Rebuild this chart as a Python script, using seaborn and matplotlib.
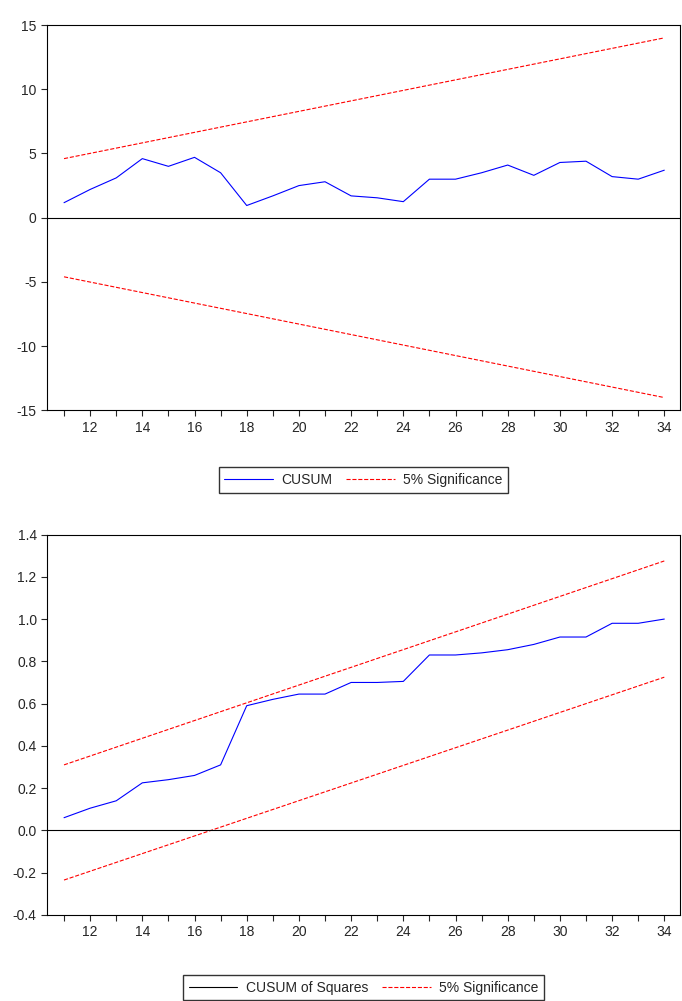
import numpy as np
import pandas as pd
import seaborn as sns
from matplotlib import pyplot as plt
from matplotlib.ticker import MultipleLocator

years = list(range(11, 35))
cusum = [1.17, 2.2, 3.1, 4.6, 4.0, 4.7, 3.5, 0.95, 1.7, 2.5, 2.8, 1.7,
         1.55, 1.25, 3.0, 3.0, 3.5, 4.1, 3.3, 4.3, 4.4, 3.2, 3.0, 3.7]
cusum_bound = [4.6, 14.0]
cusumsq = [0.06, 0.105, 0.14, 0.225, 0.24, 0.26, 0.31, 0.59, 0.62, 0.645, 0.645, 0.70,
           0.70, 0.705, 0.83, 0.83, 0.84, 0.855, 0.88, 0.915, 0.915, 0.98, 0.98, 1.0]
sq_upper = [0.31, 1.275]
sq_lower = [-0.235, 0.725]

sns.set_style('white')
plt.rcParams['font.family'] = ['Liberation Sans', 'DejaVu Sans']
plt.rcParams['font.size'] = 10
plt.rcParams['axes.unicode_minus'] = False

fig = plt.figure(figsize=(6.82, 10.01), dpi=100)
ax1 = fig.add_axes([0.069, 0.590, 0.928, 0.385])
ax2 = fig.add_axes([0.069, 0.086, 0.928, 0.380])

ends = [years[0], years[-1]]


def style(ax):
    ax.set_xlim(10.35, 34.6)
    ax.xaxis.set_major_locator(MultipleLocator(2))
    ax.xaxis.set_minor_locator(MultipleLocator(1))
    ax.tick_params(axis='both', which='both', direction='out', length=4, width=0.8,
                   bottom=True, left=True, labelsize=10)
    for s in ax.spines.values():
        s.set_color('black')
        s.set_linewidth(0.8)
    ax.axhline(0, color='black', lw=0.8)
    ax.set_xlabel('')
    ax.set_ylabel('')


sns.lineplot(x=years, y=cusum, ax=ax1, color='blue', lw=0.8, label='CUSUM')
sns.lineplot(x=ends, y=cusum_bound, ax=ax1, color='red', lw=0.8, ls='--', label='5% Significance')
sns.lineplot(x=ends, y=[-v for v in cusum_bound], ax=ax1, color='red', lw=0.8, ls='--')
ax1.set_ylim(-15, 15)
ax1.yaxis.set_major_locator(MultipleLocator(5))
style(ax1)
ax1.legend(loc='upper center', bbox_to_anchor=(0.5, -0.13), ncol=2, frameon=True,
           fancybox=False, edgecolor='black', fontsize=10, handlelength=3.5,
           columnspacing=1.0, handletextpad=0.6)

sns.lineplot(x=years, y=cusumsq, ax=ax2, color='blue', lw=0.8, label='CUSUM of Squares')
sns.lineplot(x=ends, y=sq_upper, ax=ax2, color='red', lw=0.8, ls='--', label='5% Significance')
sns.lineplot(x=ends, y=sq_lower, ax=ax2, color='red', lw=0.8, ls='--')
ax2.set_ylim(-0.4, 1.4)
ax2.yaxis.set_major_locator(MultipleLocator(0.2))
ax2.yaxis.set_major_formatter(plt.FuncFormatter(lambda v, p: f'{v:.1f}'))
style(ax2)
leg = ax2.legend(loc='upper center', bbox_to_anchor=(0.5, -0.14), ncol=2, frameon=True,
                 fancybox=False, edgecolor='black', fontsize=10, handlelength=3.5,
                 columnspacing=1.0, handletextpad=0.6)
leg.get_lines()[0].set_color('black')

fig.savefig('out.png', dpi=100)
